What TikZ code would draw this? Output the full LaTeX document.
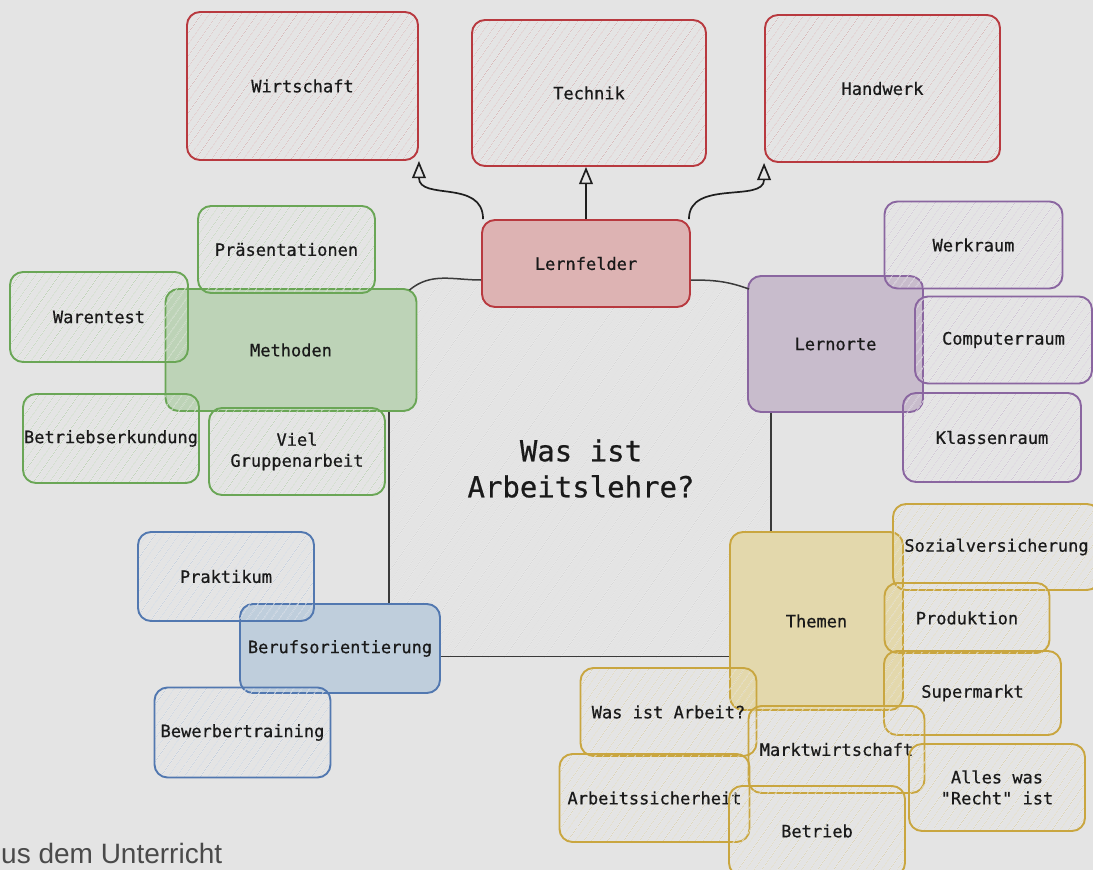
\documentclass[tikz,border=0pt]{standalone}
\usepackage{fontspec}
\setmainfont{Liberation Sans}
\newfontfamily\mono[FakeBold=0.6]{DejaVu Sans Mono}
\usetikzlibrary{patterns.meta,arrows.meta}
\definecolor{bg}{HTML}{E4E4E4}
\definecolor{txt}{HTML}{1A1A1A}
\definecolor{capC}{HTML}{4A4A4A}
\definecolor{lineC}{HTML}{3A3A3A}
\definecolor{arrC}{HTML}{1E1E1E}
\definecolor{cenH}{HTML}{D6D6D6}
\definecolor{redS}{HTML}{B8393F}
\definecolor{redH}{HTML}{D6BABA}
\definecolor{redF}{HTML}{DDB3B3}
\definecolor{greenS}{HTML}{6AA656}
\definecolor{greenH}{HTML}{C0D2B9}
\definecolor{greenF}{HTML}{BDD3B7}
\definecolor{purS}{HTML}{8A66A0}
\definecolor{purH}{HTML}{CFC5D4}
\definecolor{purF}{HTML}{C8BCCC}
\definecolor{bluS}{HTML}{5278B0}
\definecolor{bluH}{HTML}{C5CFDC}
\definecolor{bluF}{HTML}{BFCEDC}
\definecolor{yelS}{HTML}{C9A640}
\definecolor{yelH}{HTML}{DAD2B5}
\definecolor{yelF}{HTML}{E3D8AC}
\begin{document}
\begin{tikzpicture}[x=1pt,y=-1pt,
  box/.style={rounded corners=13pt, line width=1.9pt, inner sep=0pt, align=center,
    font=\mono\fontsize{17}{21}\selectfont, text=txt},
  hatch/.style={pattern={Lines[angle=55,distance=6.5pt,line width=0.8pt]}},
  sz/.style 2 args={minimum width=#1pt, minimum height=#2pt},
  redh/.style={box,hatch,draw=redS,pattern color=redH},
  redf/.style={box,draw=redS,fill=redF},
  grnh/.style={box,hatch,draw=greenS,pattern color=greenH},
  grnf/.style={box,draw=greenS,fill=greenF},
  purh/.style={box,hatch,draw=purS,pattern color=purH},
  purf/.style={box,draw=purS,fill=purF},
  bluh/.style={box,hatch,draw=bluS,pattern color=bluH},
  bluf/.style={box,draw=bluS,fill=bluF},
  yelh/.style={box,hatch,draw=yelS,pattern color=yelH},
  yelf/.style={box,draw=yelS,fill=yelF},
  conn/.style={draw=lineC, line width=1.5pt},
  arr/.style={draw=arrC, line width=1.7pt, -{Triangle[open,length=15pt,width=12pt,scale=1.15]}},
]
\useasboundingbox (0,0) rectangle (1093,870);
\fill[bg] (0,0) rectangle (1093,870);
\clip (0,0) rectangle (1093,870);

% central area
\node[inner sep=0pt, sz={382}{377}, pattern={Lines[angle=55,distance=6.5pt,line width=0.8pt]}, pattern color=cenH,
  align=center, font=\mono\fontsize{29}{36}\selectfont, text=txt] (cen) at (581,468.5) {Was ist\\Arbeitslehre?};

% top row
\node[redh, sz={231}{148}] (wirt) at (302.5,86) {Wirtschaft};
\node[redh, sz={234}{146}] (tech) at (589,93) {Technik};
\node[redh, sz={235}{147}] (hand) at (882.5,88.5) {Handwerk};

% main filled nodes
\node[redf, sz={208}{87}] (lf) at (586,263.5) {Lernfelder};
\node[grnf, sz={251}{122}] (meth) at (291,350) {Methoden};
\node[purf, sz={175}{136}] (lo) at (835.5,344) {Lernorte};
\node[yelf, sz={173}{178}] (th) at (816.5,621) {Themen};
\node[bluf, sz={200}{89}] (bo) at (340,648.5) {Berufsorientierung};

% connectors
\draw[conn] ([xshift=-8pt,yshift=-2pt]meth.north east) to[out=40,in=180] ([yshift=-16.5pt]lf.west);
\draw[conn] ([yshift=-16.5pt]lf.east) to[out=0,in=160] ([xshift=2pt,yshift=-14pt]lo.north west);
\draw[conn] ([xshift=24pt]lo.south west) -- ([xshift=24pt]lo.south west |- th.north);
\draw[conn] ([yshift=-8pt]bo.east) -- ([yshift=-8pt]bo.east -| th.west);
\draw[conn] ([xshift=-52pt]bo.north east) -- ([xshift=-52pt]bo.north east |- meth.south);

% arrows
\draw[arr] ([xshift=2pt]lf.north west) .. controls +(0,-40) and +(0,40) .. (wirt.south east);
\draw[arr] (lf.north) -- (lf.north |- tech.south);
\draw[arr] ([xshift=-2pt]lf.north east) .. controls +(0,-40) and +(0,40) .. (hand.south west);

% Methoden children
\node[grnh, sz={177}{87}] (pres) at (286.5,249.5) {Präsentationen};
\node[grnh, sz={178}{90}] (ware) at (99,317) {Warentest};
\node[grnh, sz={176}{89}] (betr) at (111,438.5) {Betriebserkundung};
\node[grnh, sz={176}{87}] (viel) at (297,451.5) {Viel\\Gruppenarbeit};

% Lernorte children
\node[purh, sz={178}{87}] (werk) at (973.5,245) {Werkraum};
\node[purh, sz={177}{87}] (comp) at (1003.5,340) {Computerraum};
\node[purh, sz={178}{89}] (klas) at (992,437.5) {Klassenraum};

% Berufsorientierung children
\node[bluh, sz={176}{89}] (prak) at (226,576.5) {Praktikum};
\node[bluh, sz={176}{90}] (bew) at (242.5,732.5) {Bewerbertraining};

% Themen children
\node[yelh, sz={207}{86}] (sozi) at (996.5,547) {Sozialversicherung};
\node[yelh, sz={165}{70}] (prod) at (967,618) {Produktion};
\node[yelh, sz={177}{84}] (super) at (972.5,693) {Supermarkt};
\node[yelh, sz={176}{88}] (wia) at (668.5,712) {Was ist Arbeit?};
\node[yelh, sz={176}{87}] (markt) at (836.5,749.5) {Marktwirtschaft};
\node[yelh, sz={176}{87}] (alles) at (997,787.5) {Alles was\\"Recht" ist};
\node[yelh, sz={190}{88}] (asich) at (654.5,798) {Arbeitssicherheit};
\node[yelh, sz={176}{90}] (btb) at (817,831) {Betrieb};

% caption fragment
\node[anchor=base west, inner sep=0pt, font=\fontsize{28}{32}\selectfont, text=capC] (cap) at (1,863) {us dem Unterricht};
\end{tikzpicture}
\end{document}
